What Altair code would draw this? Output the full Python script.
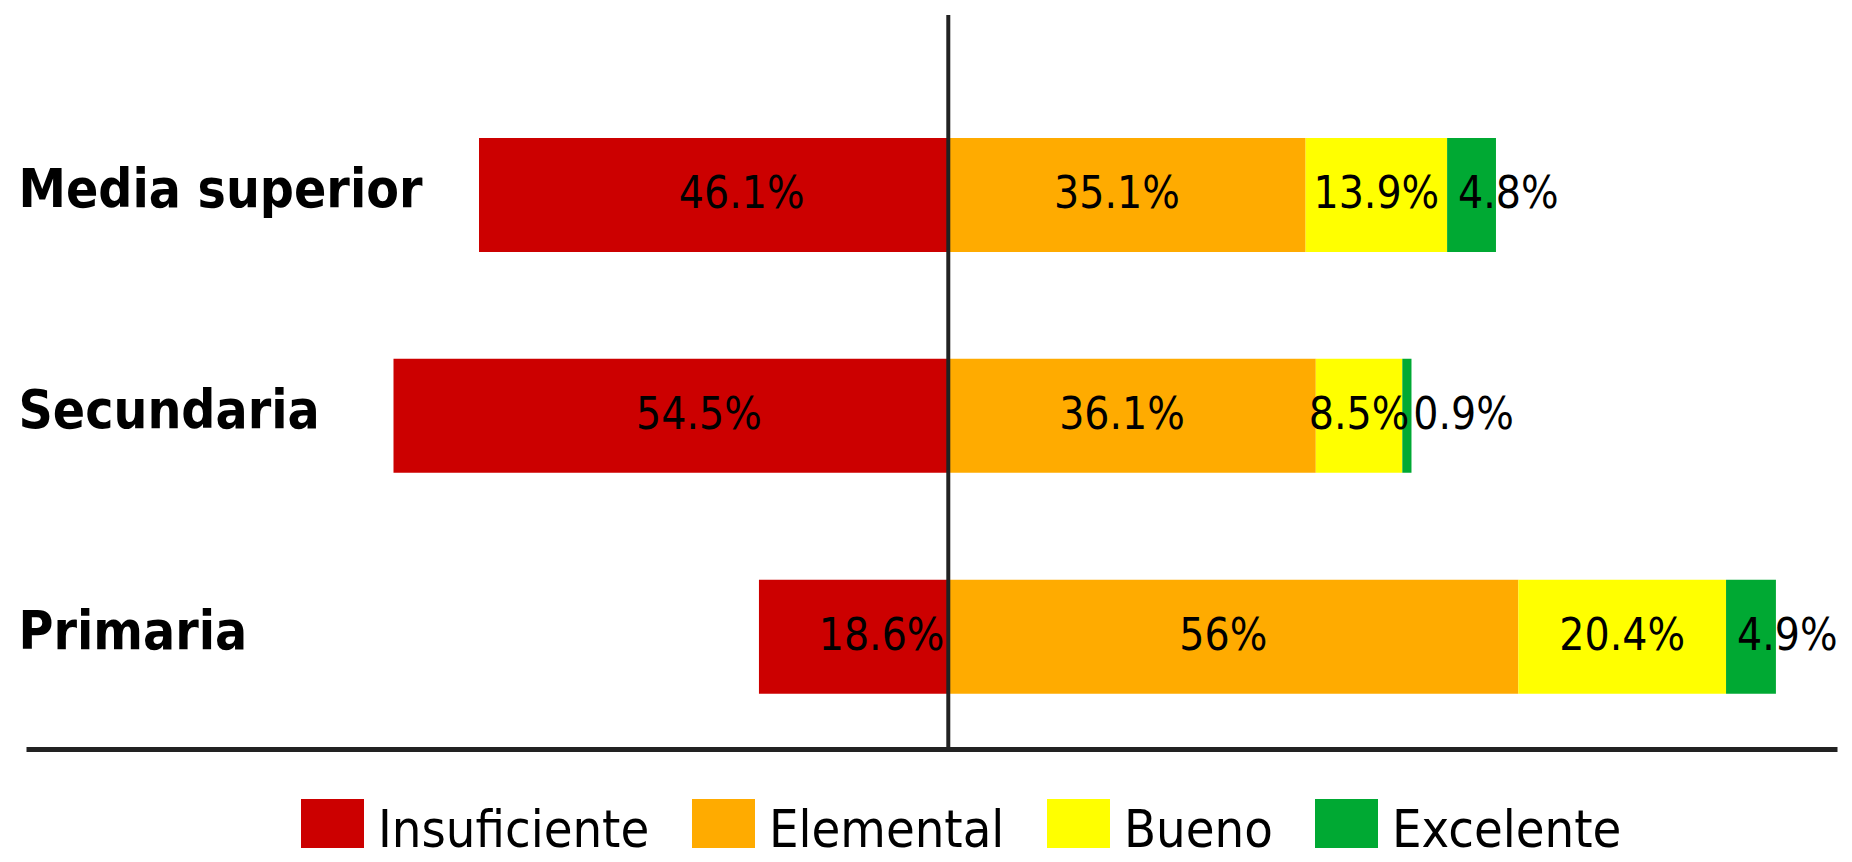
import altair as alt
import pandas as pd

categories = ["Media superior", "Secundaria", "Primaria"]
levels = ["Insuficiente", "Elemental", "Bueno", "Excelente"]
colors = ["#CC0000", "#FFAB00", "#FFFF00", "#00A933"]

insuficiente = [46.1, 54.5, 18.6]
elemental = [35.1, 36.1, 56.0]
bueno = [13.9, 8.5, 20.4]
excelente = [4.8, 0.9, 4.9]
label_text = [
    ["46.1%", "35.1%", "13.9%", "4.8%"],
    ["54.5%", "36.1%", "8.5%", "0.9%"],
    ["18.6%", "56%", "20.4%", "4.9%"],
]

series = [insuficiente, elemental, bueno, excelente]
rows = []
for ci, cat in enumerate(categories):
    pos = 0.0
    for li, lev in enumerate(levels):
        v = series[li][ci]
        if li == 0:
            start, end = -v, 0.0
        else:
            start, end = pos, pos + v
            pos = end
        rows.append({"cat": cat, "level": lev, "value": v, "start": start,
                     "end": end, "mid": (start + end) / 2, "label": label_text[ci][li]})
df = pd.DataFrame(rows)

FONT = "DejaVu Sans Condensed, Liberation Sans, sans-serif"
xscale = alt.Scale(domain=[-90.6, 87.3], nice=False, zero=False)
yscale = alt.Scale(domain=categories, paddingInner=0.484, paddingOuter=0.403, align=0.69)

bars = alt.Chart(df).mark_bar(size=114).encode(
    y=alt.Y("cat:N", scale=yscale, sort=categories,
            axis=alt.Axis(title=None, orient="left", domain=False, ticks=False, tickSize=0,
                          labelAlign="left", labelPadding=8, labelLimit=800,
                          labelFont=FONT, labelFontWeight="bold", labelFontSize=53,
                          labelColor="#000000", labelBaseline="middle", labelOffset=-4)),
    x=alt.X("start:Q", scale=xscale,
            axis=alt.Axis(title=None, labels=False, ticks=False, grid=False,
                          domain=True, domainColor="#222222", domainWidth=5)),
    x2="end:Q",
    color=alt.Color("level:N", scale=alt.Scale(domain=levels, range=colors),
                    legend=alt.Legend(title=None, orient="none", direction="horizontal",
                                      legendX=275, legendY=784, symbolType="square",
                                      symbolSize=3969, symbolStrokeWidth=0,
                                      symbolOpacity=1,
                                      labelFont=FONT, labelFontSize=52, labelColor="#000000",
                                      labelOffset=14, columnPadding=42, padding=0,
                                      labelLimit=600)),
)

text_layers = []
specs = [("Insuficiente", "mid", "center", 28),
         ("Elemental", "mid", "center", -10),
         ("Bueno", "mid", "center", 0),
         ("Excelente", "start", "left", 11)]
for lev, field, align, dx in specs:
    t = alt.Chart(df).transform_filter(alt.datum.level == lev).mark_text(
        font=FONT, fontSize=44, color="#000000", align=align, baseline="middle", dx=dx
    ).encode(
        y=alt.Y("cat:N", scale=yscale, sort=categories),
        x=alt.X(f"{field}:Q", scale=xscale),
        text="label:N",
    )
    text_layers.append(t)

zero_df = pd.DataFrame({"x": [0.0]})
rule = alt.Chart(zero_df).mark_rule(color="#222222", strokeWidth=4).encode(
    x=alt.X("x:Q", scale=xscale),
)

chart = alt.layer(bars, *text_layers, rule).properties(
    width=1811, height=734,
    padding={"left": 18, "top": 7, "right": 7, "bottom": 99},
    autosize=alt.AutoSizeParams(type="none"),
).configure_view(strokeWidth=0, stroke=None)

chart.save("out.html", embed_options={"renderer": "svg", "actions": False})
